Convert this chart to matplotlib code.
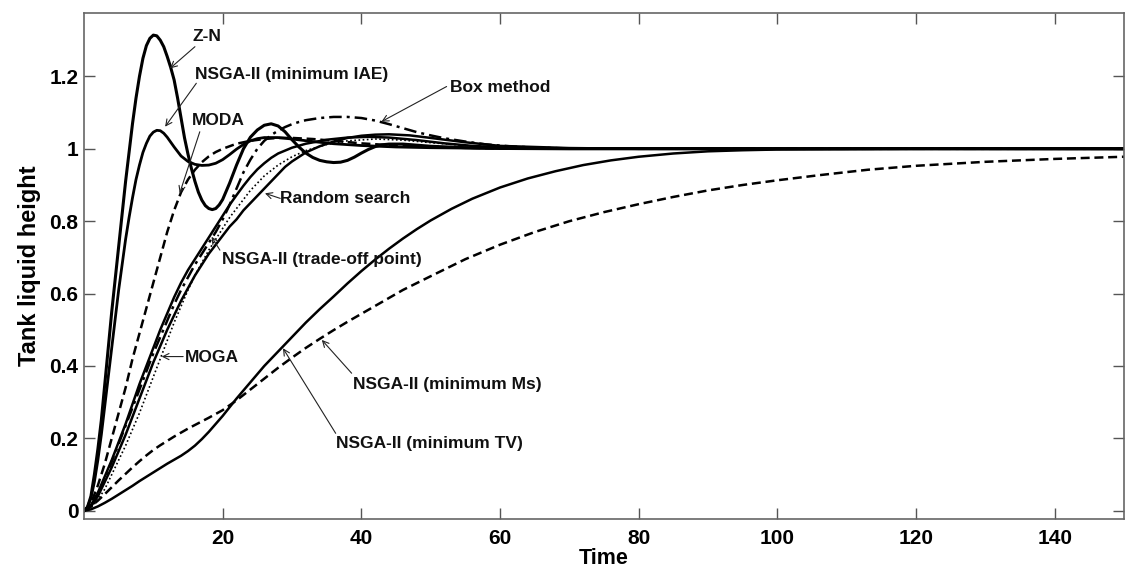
import matplotlib
matplotlib.use("Agg")
import matplotlib.pyplot as plt

plt.rcParams['font.family'] = ['Liberation Sans', 'DejaVu Sans']

# ---- step responses (time, tank liquid height) ----
zn_t = [0, 0.5, 1, 1.5, 2, 2.5, 3, 3.5, 4, 4.5, 5, 5.5, 6, 6.5, 7, 7.5, 8, 8.5, 9, 9.5,
        10, 10.5, 11, 11.5, 12, 12.5, 13, 13.5, 14, 14.5, 15, 15.5, 16, 16.5, 17, 17.5,
        18, 18.5, 19, 19.5, 20, 21, 22, 23, 24, 25, 26, 27, 28, 29, 30, 31, 32, 33, 34,
        35, 36, 37, 38, 39, 40, 41, 42, 43, 44, 46, 48, 50, 55, 60, 70, 150]
zn_y = [0, 0.01, 0.04, 0.1, 0.17, 0.25, 0.35, 0.45, 0.55, 0.64, 0.73, 0.82, 0.91, 0.99,
        1.07, 1.14, 1.2, 1.25, 1.285, 1.305, 1.314, 1.312, 1.3, 1.282, 1.255, 1.225, 1.19,
        1.14, 1.085, 1.03, 0.985, 0.945, 0.91, 0.88, 0.858, 0.843, 0.835, 0.832, 0.835,
        0.845, 0.86, 0.905, 0.955, 1.0, 1.032, 1.052, 1.065, 1.069, 1.063, 1.047, 1.025,
        1.005, 0.988, 0.976, 0.968, 0.964, 0.962, 0.963, 0.968, 0.977, 0.988, 0.998,
        1.006, 1.011, 1.013, 1.013, 1.01, 1.007, 1.003, 1.001, 1.0, 1.0]

iae_t = [0, 0.5, 1, 1.5, 2, 2.5, 3, 3.5, 4, 4.5, 5, 5.5, 6, 6.5, 7, 7.5, 8, 8.5, 9, 9.5,
         10, 10.5, 11, 11.5, 12, 13, 14, 15, 16, 17, 18, 19, 20, 21, 22, 23, 24, 25, 26,
         28, 30, 33, 36, 40, 45, 50, 60, 150]
iae_y = [0, 0.01, 0.035, 0.08, 0.14, 0.21, 0.29, 0.37, 0.45, 0.53, 0.61, 0.68, 0.75, 0.81,
         0.865, 0.915, 0.955, 0.99, 1.015, 1.035, 1.046, 1.051, 1.05, 1.043, 1.032, 1.005,
         0.98, 0.965, 0.957, 0.954, 0.955, 0.96, 0.97, 0.984, 0.999, 1.012, 1.022, 1.028,
         1.031, 1.031, 1.027, 1.02, 1.014, 1.009, 1.005, 1.003, 1.001, 1.0]

moda_t = [0, 1, 2, 3, 4, 5, 6, 7, 8, 9, 10, 11, 12, 13, 14, 15, 16, 17, 18, 19, 20, 22,
          24, 26, 28, 30, 33, 36, 40, 45, 50, 60, 150]
moda_y = [0, 0.02, 0.07, 0.13, 0.2, 0.27, 0.34, 0.42, 0.49, 0.56, 0.63, 0.7, 0.77, 0.83,
          0.88, 0.915, 0.942, 0.963, 0.979, 0.991, 1.0, 1.014, 1.022, 1.027, 1.03, 1.03,
          1.027, 1.022, 1.015, 1.009, 1.005, 1.001, 1.0]

box_t = [0, 1, 2, 3, 4, 5, 6, 7, 8, 9, 10, 11, 12, 13, 14, 15, 16, 17, 18, 19, 20, 21, 22,
         23, 24, 25, 26, 27, 28, 29, 30, 31, 32, 34, 36, 38, 40, 42, 44, 46, 48, 50, 52,
         55, 58, 62, 66, 70, 80, 150]
box_y = [0, 0.014, 0.045, 0.09, 0.135, 0.185, 0.235, 0.285, 0.335, 0.385, 0.435, 0.48,
         0.525, 0.57, 0.61, 0.645, 0.68, 0.71, 0.74, 0.77, 0.805, 0.845, 0.89, 0.935, 0.97,
         1.0, 1.022, 1.038, 1.05, 1.06, 1.068, 1.074, 1.079, 1.085, 1.088, 1.088, 1.085,
         1.078, 1.068, 1.057, 1.046, 1.037, 1.029, 1.02, 1.012, 1.006, 1.003, 1.001, 1.0,
         1.0]

rs_t = [0, 1, 2, 3, 4, 5, 6, 7, 8, 9, 10, 11, 12, 13, 14, 15, 16, 17, 18, 19, 20, 21, 22,
        23, 24, 25, 26, 27, 28, 29, 30, 32, 34, 36, 38, 40, 42, 44, 47, 50, 55, 60, 70,
        80, 150]
rs_y = [0, 0.012, 0.04, 0.08, 0.12, 0.165, 0.21, 0.26, 0.31, 0.36, 0.41, 0.455, 0.5,
        0.54, 0.58, 0.615, 0.65, 0.68, 0.71, 0.735, 0.76, 0.785, 0.805, 0.83, 0.85, 0.87,
        0.89, 0.91, 0.93, 0.95, 0.965, 0.99, 1.007, 1.02, 1.03, 1.036, 1.039, 1.04, 1.037,
        1.03, 1.018, 1.008, 1.002, 1.0, 1.0]

tr_t = [0, 1, 2, 3, 4, 5, 6, 7, 8, 9, 10, 11, 12, 13, 14, 15, 16, 17, 18, 19, 20, 21, 22,
        23, 24, 25, 26, 27, 28, 30, 32, 35, 38, 41, 44, 48, 52, 56, 60, 70, 80, 150]
tr_y = [0, 0.015, 0.05, 0.095, 0.14, 0.19, 0.24, 0.295, 0.35, 0.4, 0.45, 0.5, 0.545, 0.59,
        0.63, 0.665, 0.695, 0.725, 0.755, 0.785, 0.815, 0.845, 0.872, 0.898, 0.922, 0.943,
        0.96, 0.975, 0.987, 1.003, 1.014, 1.025, 1.031, 1.033, 1.031, 1.024, 1.015, 1.008,
        1.004, 1.001, 1.0, 1.0]

moga_t = [0, 1, 2, 3, 4, 5, 6, 7, 8, 9, 10, 11, 12, 13, 14, 15, 16, 17, 18, 19, 20, 21,
          22, 23, 24, 25, 26, 28, 30, 32, 35, 38, 42, 46, 50, 55, 60, 70, 150]
moga_y = [0, 0.008, 0.03, 0.06, 0.1, 0.14, 0.18, 0.225, 0.27, 0.32, 0.37, 0.42, 0.47, 0.52,
          0.565, 0.61, 0.65, 0.685, 0.72, 0.75, 0.78, 0.81, 0.835, 0.86, 0.885, 0.905,
          0.925, 0.955, 0.978, 0.995, 1.012, 1.022, 1.027, 1.024, 1.017, 1.009, 1.004,
          1.001, 1.0]

ms_t = [0, 1, 2, 3, 4, 5, 6, 7, 8, 9, 10, 11, 12, 13, 14, 15, 16, 18, 20, 22, 24, 26, 28,
        30, 32, 34, 36, 38, 40, 43, 46, 50, 55, 60, 65, 70, 75, 80, 85, 90, 95, 100, 106,
        113, 120, 130, 140, 150]
ms_y = [0, 0.012, 0.028, 0.046, 0.065, 0.084, 0.102, 0.12, 0.137, 0.153, 0.168, 0.181,
        0.193, 0.205, 0.216, 0.227, 0.237, 0.257, 0.278, 0.305, 0.335, 0.365, 0.395, 0.423,
        0.45, 0.475, 0.499, 0.522, 0.544, 0.577, 0.61, 0.648, 0.695, 0.735, 0.77, 0.8,
        0.825, 0.847, 0.867, 0.885, 0.9, 0.913, 0.927, 0.942, 0.953, 0.964, 0.972, 0.978]

tv_t = [0, 1, 2, 3, 4, 5, 6, 7, 8, 9, 10, 11, 12, 13, 14, 15, 16, 17, 18, 19, 20, 22, 24,
        26, 28, 30, 32, 34, 36, 38, 40, 42, 44, 46, 48, 50, 53, 56, 60, 64, 68, 72, 76, 80,
        85, 90, 95, 100, 110, 120, 150]
tv_y = [0, 0.004, 0.012, 0.022, 0.033, 0.045, 0.057, 0.069, 0.082, 0.094, 0.106, 0.118,
        0.13, 0.141, 0.152, 0.165, 0.18, 0.198, 0.218, 0.24, 0.262, 0.31, 0.355, 0.4, 0.44,
        0.48, 0.52, 0.557, 0.592, 0.628, 0.662, 0.694, 0.724, 0.752, 0.778, 0.802, 0.834,
        0.862, 0.893, 0.918, 0.938, 0.955, 0.968, 0.978, 0.987, 0.993, 0.996, 0.998, 0.999,
        1.0, 1.0]

x_ticks = [20, 40, 60, 80, 100, 120, 140]
y_ticks = [0, 0.2, 0.4, 0.6, 0.8, 1.0, 1.2]
y_tick_labels = ['0', '0.2', '0.4', '0.6', '0.8', '1', '1.2']

# label text, text anchor (left, middle), arrow tail, arrow tip
labels = [
    ("Z-N",                        (15.7, 1.309), (16.0, 1.282), (12.4, 1.222)),
    ("NSGA-II (minimum IAE)",      (16.0, 1.206), (16.2, 1.181), (11.7, 1.061)),
    ("MODA",                       (15.5, 1.078), (16.7, 1.047), (13.8, 0.877)),
    ("Box method",                 (52.8, 1.169), (52.3, 1.172), (42.9, 1.075)),
    ("Random search",              (28.3, 0.863), (28.3, 0.863), (26.1, 0.877)),
    ("NSGA-II (trade-off point)",  (19.9, 0.693), (19.6, 0.720), (18.4, 0.757)),
    ("MOGA",                       (14.6, 0.423), (14.3, 0.426), (11.2, 0.426)),
    ("NSGA-II (minimum Ms)",       (38.8, 0.350), (38.6, 0.380), (34.3, 0.472)),
    ("NSGA-II (minimum TV)",       (36.3, 0.186), (36.3, 0.214), (28.7, 0.449)),
]

W, H = 1125, 572
fig = plt.figure(figsize=(W / 100, H / 100), dpi=100)
ax = fig.add_axes([84 / W, 53 / H, 1040 / W, 506 / H])

k = 'black'
dash = (0, (3.6, 1.9))
ax.plot(tv_t, tv_y, color=k, lw=1.8)
ax.plot(ms_t, ms_y, color=k, lw=1.8, ls=dash)
ax.plot(moga_t, moga_y, color=k, lw=1.2, ls=(0, (1, 1.5)))
ax.plot(rs_t, rs_y, color=k, lw=1.8)
ax.plot(tr_t, tr_y, color=k, lw=1.8)
ax.plot(box_t, box_y, color=k, lw=1.8, ls=(0, (5, 2, 1.2, 2)))
ax.plot(moda_t, moda_y, color=k, lw=1.8, ls=dash)
ax.plot(iae_t, iae_y, color=k, lw=2.0)
ax.plot(zn_t, zn_y, color=k, lw=2.2)

for text, pos, tail, tip in labels:
    ax.annotate('', xy=tip, xytext=tail,
                arrowprops=dict(arrowstyle='->', lw=0.8, color='#222222',
                                shrinkA=0, shrinkB=0, mutation_scale=11))
    ax.text(pos[0], pos[1], text, ha='left', va='center', fontsize=12.5,
            fontweight='bold', color='#111111')

ax.set_xlim(0, 150)
ax.set_ylim(-0.0227, 1.3751)
ax.set_xticks(x_ticks)
ax.set_yticks(y_ticks)
ax.set_yticklabels(y_tick_labels)
ax.tick_params(direction='in', length=8, width=1.0, color='#555555',
               top=True, right=True, labelsize=15)
ax.tick_params(axis='x', pad=7)
ax.tick_params(axis='y', pad=4)
for lab in ax.get_xticklabels() + ax.get_yticklabels():
    lab.set_fontweight('bold')
for sp in ax.spines.values():
    sp.set_color('#666666')
    sp.set_linewidth(1.2)

ax.set_xlabel('Time', fontsize=15.5, fontweight='bold', labelpad=0)
ax.set_ylabel('Tank liquid height', fontsize=17, fontweight='bold', labelpad=6)

fig.savefig('out.png', dpi=100)
